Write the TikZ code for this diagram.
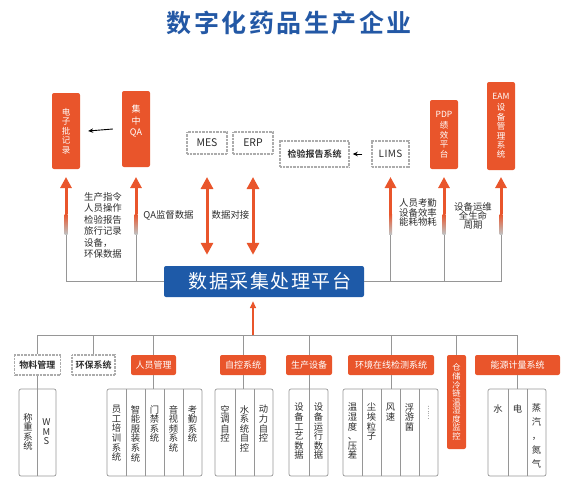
\documentclass[tikz,border=0pt]{standalone}
\usepackage{fontspec}
\setmainfont{Noto Sans CJK SC}[BoldFont={Noto Sans CJK SC Bold}]
\usetikzlibrary{arrows.meta,calc}
\definecolor{orng}{RGB}{233,85,43}
\definecolor{platblue}{RGB}{30,90,168}
\definecolor{ttlblue}{RGB}{35,88,165}
\definecolor{txtc}{RGB}{45,45,45}
\definecolor{linec}{RGB}{150,150,150}
\tikzset{
  obox/.style={fill=orng, rounded corners=2pt, text=white, inner sep=0pt, align=center,
    font=\fontsize{8.5}{9.4}\selectfont},
  dbox/.style={draw=gray!65, line width=1.5pt, dash pattern=on 0.7pt off 0.7pt, fill=white,
    inner sep=0pt, text=txtc, font=\fontsize{8.5}{9}\selectfont},
  catbox/.style={fill=orng, rounded corners=2pt, text=white, inner sep=0pt,
    minimum height=20pt, font=\fontsize{9}{9}\selectfont},
  dcat/.style={dbox, minimum height=20pt, font=\bfseries\fontsize{9}{9}\selectfont},
  tbl/.style={draw=linec, line width=0.7pt, rounded corners=2pt, minimum height=87pt, inner sep=0pt},
  tline/.style={draw=linec, line width=0.7pt},
  conn/.style={draw=linec, line width=0.8pt},
  vtxt/.style={anchor=north, align=center, text=txtc, inner sep=0pt,
    font=\fontsize{9.3}{9.6}\selectfont},
  lbl/.style={text=txtc, inner sep=0pt, font=\fontsize{9.4}{11.5}\selectfont},
  uparrow/.style={draw=orng, line width=3pt, -{Triangle[width=11pt,length=11pt]}},
  dblarrow/.style={draw=orng, line width=3pt,
    {Triangle[width=12pt,length=12pt]}-{Triangle[width=12pt,length=12pt]}},
  blkarrow/.style={draw=black, line width=0.9pt, -{Stealth[length=5pt,width=4.5pt]}},
  smallup/.style={draw=orng, line width=1.5pt, -{Triangle[width=6pt,length=7pt]}},
}
\begin{document}
\begin{tikzpicture}[x=1pt,y=-1pt]
\useasboundingbox (0,0) rectangle (573,488);

% title
\node[text=ttlblue, inner sep=0pt, font=\bfseries\fontsize{25}{25}\selectfont\addfontfeature{LetterSpace=10}]
  (title) at (289,23) {数字化药品生产企业};

% top boxes
\node[obox, minimum width=28pt, minimum height=76pt] (dzpjl) at (66,131) {电\\子\\批\\记\\录};
\node[obox, minimum width=28pt, minimum height=76pt, font=\fontsize{9}{11.5}\selectfont] (jzqa) at (136,129) {集\\中\\QA\\[6pt]};
\node[dbox, minimum width=40pt, minimum height=22pt, font=\fontsize{10.5}{10.5}\selectfont] (mes) at (207,143) {MES};
\node[dbox, minimum width=40pt, minimum height=22pt, font=\fontsize{10.5}{10.5}\selectfont] (erp) at (253,143) {ERP};
\node[dbox, minimum width=69pt, minimum height=26pt, font=\bfseries\fontsize{9}{9}\selectfont] (jybg) at (314.5,154) {检验报告系统};
\node[dbox, minimum width=37pt, minimum height=26pt, font=\fontsize{10}{10}\selectfont\addfontfeature{LetterSpace=4}] (lims) at (390.5,154) {LIMS};
\node[obox, minimum width=28pt, minimum height=69pt, font=\fontsize{8.5}{9.4}\selectfont] (pdp) at (444,134.5) {PDP\\[2pt]绩\\效\\平\\台};
\node[obox, minimum width=28pt, minimum height=88pt, font=\fontsize{8.5}{9.4}\selectfont] (eam) at (501,126) {EAM\\[2pt]设\\备\\管\\理\\系\\统};

% small black arrows
\draw[blkarrow] ($(jzqa.west)+(-9,0)$) -- ($(dzpjl.east)+(8,0)$);
\draw[blkarrow] ($(lims.west)+(-9,0)$) -- ($(jybg.east)+(3,0)$);

% platform
\node[fill=platblue, rounded corners=2pt, minimum width=200pt, minimum height=31pt, inner sep=0pt,
  text=white, font=\fontsize{19}{19}\selectfont\addfontfeature{LetterSpace=8}]
  (plat) at (264,281.5) {\hspace*{12pt}数据采集处理平台};

\coordinate (tipU) at (0,177);
\coordinate (fadeU) at (0,214);
\coordinate (fadeB) at (0,234);

% horizontal lines from platform
\draw[conn] (dzpjl.south |- plat.west) -- (plat.west);
\draw[conn] (plat.east) -- (eam.south |- plat.east);

% upward arrows
\foreach \n in {dzpjl,jzqa,lims,pdp,eam}{
  \draw[conn] (\n.south |- plat.west) -- (\n.south |- fadeU);
  \shade[top color=orng, bottom color=linec!60]
    ($(\n.south |- fadeU)+(-1.5,0)$) rectangle ($(\n.south |- fadeB)+(1.5,0)$);
  \draw[uparrow] (\n.south |- fadeU) -- (\n.south |- tipU);
}

% double arrows
\coordinate (dA) at ([yshift=11pt]plat.north);
\draw[dblarrow] (mes.south |- tipU) -- (mes.south |- dA);
\draw[dblarrow] (erp.south |- tipU) -- (erp.south |- dA);

% labels
\node[lbl, anchor=north west, align=left] (l1) at (84,192) {生产指令\\人员操作\\检验报告\\旅行记录\\设备，\\环保数据};
\node[lbl] (l2) at (168.5,215) {QA监督数据};
\node[lbl] (l3) at (230.5,215) {数据对接};
\node[lbl, align=center, font=\fontsize{9.4}{9.7}\selectfont] (l4) at (418,212.5) {人员考勤\\设备效率\\能耗物耗};
\node[lbl, align=center, font=\fontsize{9.4}{9.4}\selectfont] (l5) at (473,216) {设备运维\\全生命\\周期};

% bottom bus
\coordinate (bus) at (0,335);
\coordinate (pin) at ([xshift=-11pt,yshift=-4pt]plat.south);

% categories
\node[dcat, minimum width=46pt] (wlgl) at (37.5,365) {物料管理};
\node[dcat, minimum width=43pt] (hbxt) at (93.5,365) {环保系统};
\node[catbox, minimum width=45pt] (rygl) at (153.5,365) {人员管理};
\node[catbox, minimum width=46pt] (zkxt) at (243,365) {自控系统};
\node[catbox, minimum width=46pt] (scsb) at (309,365) {生产设备};
\node[catbox, minimum width=86pt] (hjzx) at (391,365) {环境在线检测系统};
\node[catbox, minimum width=19pt, minimum height=94pt, align=center, font=\fontsize{8.3}{8.6}\selectfont] (ccll) at (456.5,402) {仓\\储\\冷\\链\\温\\湿\\度\\监\\控};
\node[catbox, minimum width=85pt] (nyjl) at (517.5,365) {能源计量系统};

\draw[conn] (wlgl.north |- bus) -- (nyjl.north |- bus);
\foreach \n in {wlgl,hbxt,rygl,zkxt,scsb,hjzx,ccll,nyjl}{
  \draw[conn] (\n.north |- bus) -- (\n.north);
}
\draw[smallup] (pin |- bus) -- (pin);

% tables
\node[tbl, minimum width=37pt] (t1) at (37.5,432.5) {};
\node[tbl, minimum width=95pt] (t2) at (154.5,432.5) {};
\node[tbl, minimum width=58pt] (t3) at (244,432.5) {};
\node[tbl, minimum width=39pt] (t4) at (308.5,432.5) {};
\node[tbl, minimum width=95pt] (t5) at (390.5,432.5) {};
\node[tbl, minimum width=58pt] (t6) at (517,432.5) {};

\draw[conn] (wlgl.south) -- (wlgl.south |- t1.south);
\draw[conn] (scsb.south) -- (scsb.south |- t4.south);
\draw[conn] (rygl.south) -- (rygl.south |- t2.north);
\draw[conn] (zkxt.south) -- (zkxt.south |- t3.north);
\draw[conn] (hjzx.south) -- (hjzx.south |- t5.north);
\draw[conn] (nyjl.south) -- (nyjl.south |- t6.north);

\foreach \x in {126,145,164,183,235,254,362,381,400,419,508,527}{
  \draw[tline] (\x,389) -- (\x,476);
}

% table texts
\node[vtxt, anchor=center] (c11) at (28,432) {称\\重\\系\\统};
\node[vtxt, anchor=center] (c12) at (46.5,432) {W\\M\\S};
\node[vtxt] (c21) at (116.5,405) {员\\工\\培\\训\\系\\统};
\node[vtxt] (c22) at (135.5,405) {智\\能\\服\\装\\系\\统};
\node[vtxt] (c23) at (154.5,405) {门\\禁\\系\\统};
\node[vtxt] (c24) at (173.5,405) {音\\视\\频\\系\\统};
\node[vtxt] (c25) at (192.5,405) {考\\勤\\系\\统};
\node[vtxt] (c31) at (225,405) {空\\调\\自\\控};
\node[vtxt] (c32) at (244.5,405) {水\\系\\统\\自\\控};
\node[vtxt] (c33) at (263.5,405) {动\\力\\自\\控};
\node[vtxt] (c41) at (299,403) {设\\备\\工\\艺\\数\\据};
\node[vtxt] (c42) at (318.5,403) {设\\备\\运\\行\\数\\据};
\node[vtxt] (c51) at (352.5,403) {温\\湿\\度\\、\\压\\差};
\node[vtxt] (c52) at (371.5,403) {尘\\埃\\粒\\子};
\node[vtxt] (c53) at (390.5,403) {风\\速};
\node[vtxt] (c54) at (409.5,403) {浮\\游\\菌};
\node[text=txtc, inner sep=0pt, rotate=-90, font=\fontsize{7}{7}\selectfont] (c55) at (428.5,412.5) {……};
\node[vtxt] (c61) at (498,404) {水};
\node[vtxt] (c62) at (517.5,404) {电};
\node[vtxt, font=\fontsize{9.3}{14}\selectfont] (c63) at (536.5,403) {蒸\\汽\\，\\氮\\气};
\end{tikzpicture}
\end{document}
